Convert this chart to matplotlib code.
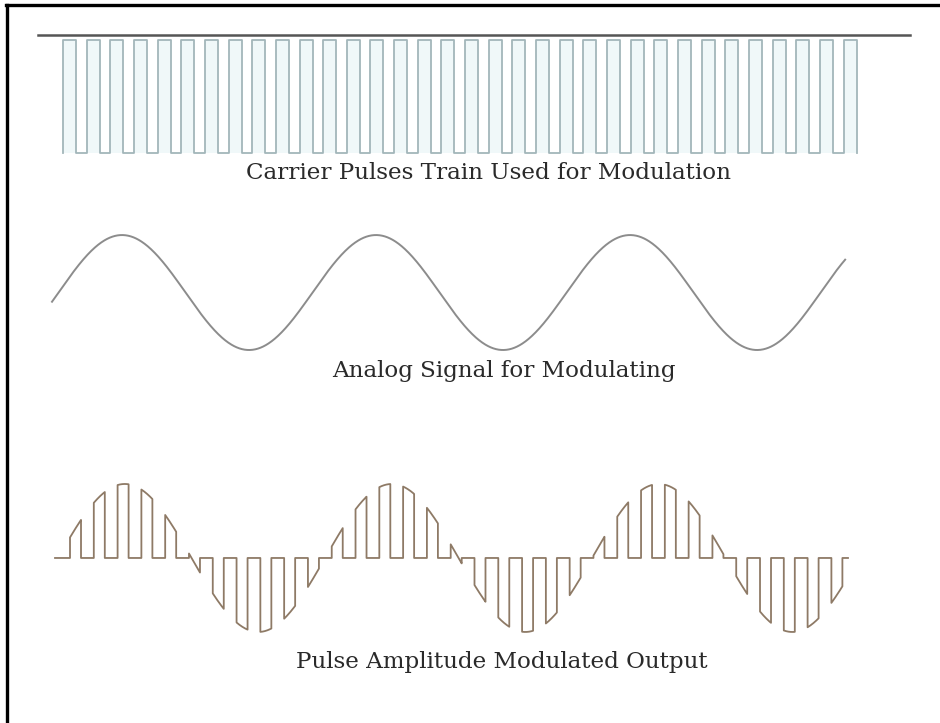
import numpy as np
import matplotlib
matplotlib.use("Agg")
import matplotlib.pyplot as plt
from matplotlib.lines import Line2D

# time axis in carrier periods (carrier period = 1)
t_view = (-2.664, 37.08)

# carrier pulse train
carrier_start = 0.0
carrier_period = 1.0
carrier_high = 0.55
carrier_count = 34
ref_line_span = (-1.06, 35.81)
ref_line_level = 1.045

# analog modulating signal
analog_period = 10.74
analog_zero = -0.19
analog_span = (-0.465, 33.07)

# pulse amplitude modulated output
pam_start = 0.296
pam_period = 1.006
pam_width = 0.465
pam_count = 33
pam_signal_period = 11.29
pam_zero = -0.21
pam_span = (-0.338, 33.19)

labels = [
    "Carrier Pulses Train Used for Modulation",
    "Analog Signal for Modulating",
    "Pulse Amplitude Modulated Output",
]


def sig(t, zero, period):
    return np.sin(2 * np.pi * (t - zero) / period)


fig = plt.figure(figsize=(9.4, 7.23), dpi=100)
fig.patch.set_facecolor("white")

# carrier pulses
ax1 = fig.add_axes([0, 0.7884, 1, 0.1563])
xs, ys = [], []
for k in range(carrier_count):
    a = carrier_start + k * carrier_period
    b = a + carrier_high
    xs += [a, a, b, b]
    ys += [0, 1, 1, 0]
    ax1.fill_between([a, b], 0, 1, color="#f0f8f9", lw=0)
    if k < carrier_count - 1:
        xs += [a + carrier_period]
        ys += [0]
ax1.plot(xs, ys, color="#a3b6ba", lw=1.3, clip_on=False)
ax1.plot(ref_line_span, [ref_line_level] * 2, color="#555555", lw=1.8, clip_on=False)
ax1.set_xlim(*t_view)
ax1.set_ylim(0, 1)
ax1.axis("off")

# analog signal
ax2 = fig.add_axes([0, 0.5159, 1, 0.159])
t = np.linspace(analog_span[0], analog_span[1], 1500)
ax2.plot(t, sig(t, analog_zero, analog_period), color="#8c8c8c", lw=1.4, clip_on=False)
ax2.set_xlim(*t_view)
ax2.set_ylim(-1, 1)
ax2.axis("off")

# PAM output: pulse tops follow the signal
ax3 = fig.add_axes([0, 0.1259, 1, 0.2047])
px, py = [pam_span[0]], [0.0]
for k in range(pam_count):
    a = pam_start + k * pam_period
    b = a + pam_width
    tt = np.linspace(a, b, 20)
    px += [a] + list(tt) + [b]
    py += [0.0] + list(sig(tt, pam_zero, pam_signal_period)) + [0.0]
px.append(pam_span[1])
py.append(0.0)
ax3.plot(px, py, color="#8e7a66", lw=1.3, clip_on=False)
ax3.set_xlim(*t_view)
ax3.set_ylim(-1, 1)
ax3.axis("off")

# captions
fig.text(489 / 940, 1 - 173 / 723, labels[0], ha="center", va="center",
         family="DejaVu Serif", fontsize=16.6, color="#2a2a2a")
fig.text(504 / 940, 1 - 371 / 723, labels[1], ha="center", va="center",
         family="DejaVu Serif", fontsize=16.6, color="#2a2a2a")
fig.text(502 / 940, 1 - 662 / 723, labels[2], ha="center", va="center",
         family="DejaVu Serif", fontsize=16.6, color="#2a2a2a")

# frame (left and top edges)
fig.add_artist(Line2D([7.5 / 940, 7.5 / 940], [0, 1 - 4.5 / 723], color="black", lw=2.4))
fig.add_artist(Line2D([6 / 940, 1], [1 - 4.5 / 723, 1 - 4.5 / 723], color="black", lw=2.4))

fig.savefig("out.png", dpi=100, facecolor="white")
